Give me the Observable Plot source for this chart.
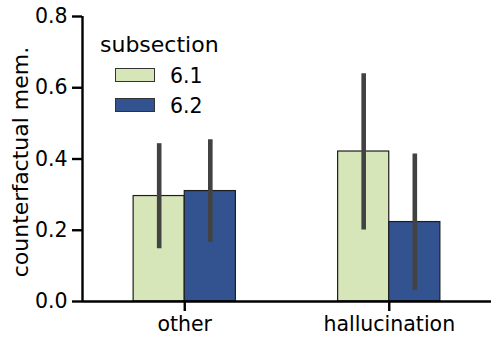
<!DOCTYPE html>
<html>
<head>
<meta charset="utf-8">
<script src="https://cdn.jsdelivr.net/npm/d3@7"></script>
<script src="https://cdn.jsdelivr.net/npm/@observablehq/plot@0.6"></script>
<style>
  html, body { margin: 0; padding: 0; background: #fff; }
  #wrap { position: relative; width: 499px; height: 345px; font-family: "DejaVu Sans", sans-serif; }
  #legend { position: absolute; left: 0; top: 0; font-size: 20.5px; line-height: 1; color: #000; }
  #legend .t { position: absolute; white-space: nowrap; }
  #legend .sw { position: absolute; width: 38px; height: 11.5px; border: 1.2px solid #333; }
</style>
</head>
<body>
<div id="wrap"><div id="legend"></div></div>
<script>
// ---- data ----
const categories = ["other", "hallucination"];
const subsections = ["6.1", "6.2"];
const colors = ["#d6e6b9", "#32538f"];
const means61 = [0.296, 0.421];
const means62 = [0.310, 0.223];
const lo61 = [0.148, 0.201];
const hi61 = [0.443, 0.639];
const lo62 = [0.166, 0.031];
const hi62 = [0.454, 0.414];
const yTicks = [0, 0.2, 0.4, 0.6, 0.8];
const yLabel = "counterfactual mem.";
const legendTitle = "subsection";

// ---- build table ----
const barW = 0.25; // seaborn-like bar width (group = 0.5)
const means = [means61, means62], los = [lo61, lo62], his = [hi61, hi62];
const rows = [];
categories.forEach((c, i) => {
  subsections.forEach((s, j) => {
    rows.push({
      cat: c, sub: s,
      x1: i + (j - 1) * barW, x2: i + j * barW, xc: i + (j - 0.5) * barW,
      value: means[j][i], lo: los[j][i], hi: his[j][i]
    });
  });
});
const xDomain = [-0.5, categories.length - 0.5];
const yDomain = [0, yTicks[yTicks.length - 1]];
const font = "DejaVu Sans";

const chart = Plot.plot({
  width: 499, height: 345,
  marginLeft: 82, marginRight: 8, marginTop: 16, marginBottom: 44,
  style: { fontFamily: font, fontSize: "20.5px", background: "transparent", color: "#000" },
  x: { type: "linear", domain: xDomain },
  y: { domain: yDomain },
  color: { domain: subsections, range: colors },
  marks: [
    Plot.rectY(rows, { x1: "x1", x2: "x2", y: "value", fill: "sub", stroke: "#1e1e1e", strokeWidth: 1.2 }),
    Plot.ruleX(rows, { x: "xc", y1: "lo", y2: "hi", stroke: "#424242", strokeWidth: 4.6 }),
    Plot.ruleY([0], { stroke: "#000", strokeWidth: 2.4 }),
    Plot.ruleX([xDomain[0]], { stroke: "#000", strokeWidth: 2.4 }),
    Plot.axisY(yTicks, { tickFormat: d3.format(".1f"), tickSize: 10, tickPadding: 5, strokeWidth: 2.4, fontSize: 20.5, label: null }),
    Plot.axisX(categories.map((_, i) => i), { tickFormat: i => categories[i], tickSize: 10, tickPadding: 5, strokeWidth: 2.4, fontSize: 20.5, label: null }),
    Plot.text([yLabel], { frameAnchor: "left", textAnchor: "middle", lineAnchor: "middle", rotate: -90, dx: -62, dy: 3, fontSize: 22, fill: "#000" })
  ]
});
document.getElementById("wrap").prepend(chart);

// ---- legend (inside plot area, like matplotlib) ----
const lg = document.getElementById("legend");
const t = document.createElement("div");
t.className = "t"; t.textContent = legendTitle;
t.style.left = "100px"; t.style.top = "33.5px"; t.style.fontSize = "22px";
lg.appendChild(t);
subsections.forEach((s, j) => {
  const sw = document.createElement("div");
  sw.className = "sw"; sw.style.background = colors[j];
  sw.style.left = "115px"; sw.style.top = (68 + j * 30) + "px";
  lg.appendChild(sw);
  const l = document.createElement("div");
  l.className = "t"; l.textContent = s;
  l.style.left = "170px"; l.style.top = (65.5 + j * 30) + "px";
  lg.appendChild(l);
});
</script>
</body>
</html>
